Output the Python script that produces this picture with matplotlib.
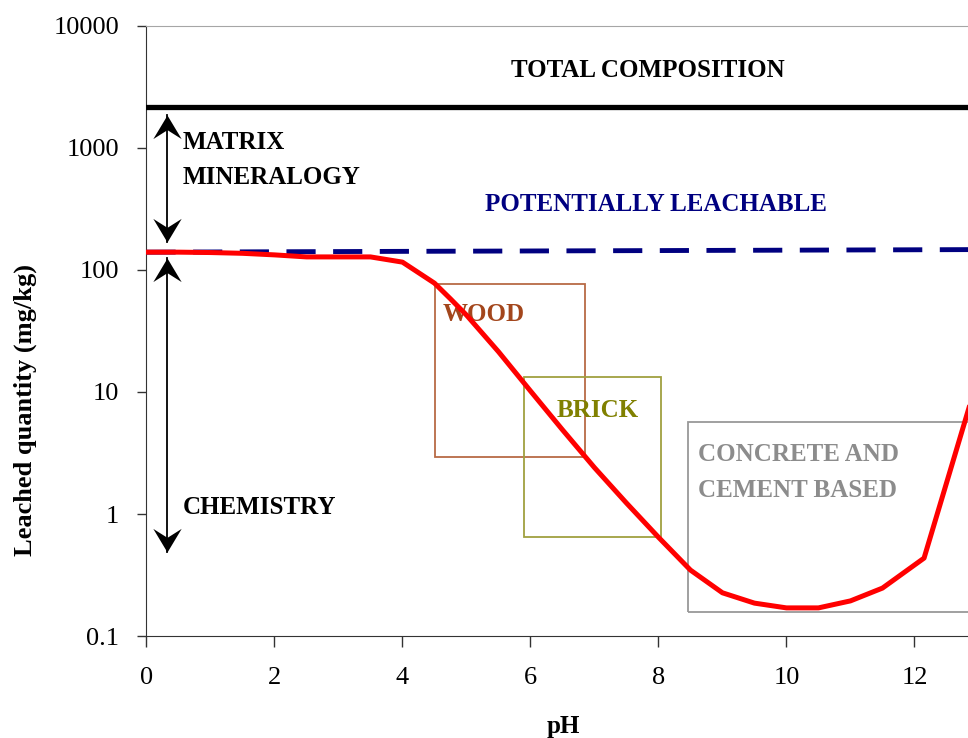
import matplotlib
matplotlib.use("Agg")
import matplotlib.pyplot as plt
from matplotlib.patches import Rectangle
from matplotlib.path import Path

plt.rcParams['font.family'] = ['Liberation Serif', 'DejaVu Serif']

# leaching curve (pH vs leached quantity, mg/kg)
ph = [0, 0.5, 1, 1.5, 2, 2.5, 3, 3.5, 4, 4.5, 4.75, 5, 5.5, 6, 6.5, 7, 7.5,
      8, 8.5, 9, 9.5, 10, 10.5, 11, 11.5, 12.15, 13]
leached = [140, 140, 139, 137, 133, 128, 128, 128, 116, 78, 58, 42.7, 21.4,
           10.2, 4.9, 2.4, 1.23, 0.645, 0.347, 0.226, 0.186, 0.17, 0.17, 0.194,
           0.247, 0.435, 13.5]

# reference levels
leachable_ph = [0, 13]
leachable = [140, 147]
total_composition = 2170

# material windows: (pH lo, pH hi, y lo, y hi)
wood_box = (4.51, 6.85, 2.93, 76.7)
brick_box = (5.9, 8.04, 0.647, 13.3)
concrete_box = (8.46, 13.2, 0.157, 5.68)

yticks = [0.1, 1, 10, 100, 1000, 10000]
ytick_labels = ['0.1', '1', '10', '100', '1000', '10000']
xticks = [0, 2, 4, 6, 8, 10, 12]

# arrows: x position, top tip, bottom tip
arrow_x = 0.32
mineralogy_span = (1862, 170)
chemistry_span = (125, 0.49)

fig = plt.figure(figsize=(9.68, 7.38), dpi=100)
ax = fig.add_axes([0.1513, 0.1382, 0.8595, 0.8266])

ax.set_yscale('log')
ax.set_xlim(0, 13)
ax.set_ylim(0.1, 10000)
ax.set_yticks(yticks)
ax.set_yticklabels(ytick_labels)
ax.minorticks_off()
ax.set_xticks(xticks)
ax.tick_params(axis='y', direction='out', length=6.5, width=1, pad=13, labelsize=19, color='#333333')
ax.tick_params(axis='x', direction='out', length=8, width=1, pad=14, labelsize=19, color='#333333')

ax.spines['right'].set_visible(False)
ax.spines['top'].set_color('#a6a6a6')
ax.spines['left'].set_color('#333333')
ax.spines['bottom'].set_color('#333333')

# boxes for material pH domains
for (x0, x1, y0, y1), ec in [(wood_box, '#b86a45'), (brick_box, '#a0a040'), (concrete_box, '#999999')]:
    ax.add_patch(Rectangle((x0, y0), x1 - x0, y1 - y0, fill=False, ec=ec, lw=1.3, zorder=2))

ax.axhline(total_composition, color='black', lw=3.8, zorder=3)
ax.plot(leachable_ph, leachable, color='#000080', lw=3.5, dashes=(6, 3.6), zorder=3)
ax.plot(ph, leached, color='#ff0000', lw=3.6, zorder=4, solid_joinstyle='round')

# double arrows with stealth heads
head_up = Path([(0, 0), (-0.6, -1), (0, -0.62), (0.6, -1), (0, 0)],
               [Path.MOVETO, Path.LINETO, Path.LINETO, Path.LINETO, Path.CLOSEPOLY])
head_down = Path([(0, 0), (-0.6, 1), (0, 0.62), (0.6, 1), (0, 0)],
                 [Path.MOVETO, Path.LINETO, Path.LINETO, Path.LINETO, Path.CLOSEPOLY])
for top, bottom in [mineralogy_span, chemistry_span]:
    ax.plot([arrow_x, arrow_x], [top, bottom], color='black', lw=1.3, zorder=3)
    ax.plot([arrow_x], [top], marker=head_up, ms=34, color='black', mew=0, zorder=3)
    ax.plot([arrow_x], [bottom], marker=head_down, ms=34, color='black', mew=0, zorder=3)

bold = dict(fontsize=18, fontweight='bold', va='center')
ax.text(7.84, 4355, 'TOTAL COMPOSITION', ha='center', color='black', **bold)
ax.text(7.96, 341, 'POTENTIALLY LEACHABLE', ha='center', color='#000080', **bold)
ax.text(0.57, 1099, 'MATRIX', ha='left', color='black', **bold)
ax.text(0.57, 578, 'MINERALOGY', ha='left', color='black', **bold)
ax.text(0.57, 1.14, 'CHEMISTRY', ha='left', color='black', **bold)
ax.text(4.63, 42.8, 'WOOD', ha='left', color='#a3461c', **bold)
ax.text(6.41, 7.1, 'BRICK', ha='left', color='#808000', **bold)
ax.text(8.62, 3.05, 'CONCRETE AND', ha='left', color='#8c8c8c', **bold)
ax.text(8.62, 1.57, 'CEMENT BASED', ha='left', color='#8c8c8c', **bold)

fig.text(0.026, 0.444, 'Leached quantity (mg/kg)', rotation=90, ha='center', va='center',
         fontsize=19, fontweight='bold')
fig.text(0.5816, 0.015, 'pH', ha='center', va='center', fontsize=18, fontweight='bold')

fig.savefig('out.png', dpi=100)
